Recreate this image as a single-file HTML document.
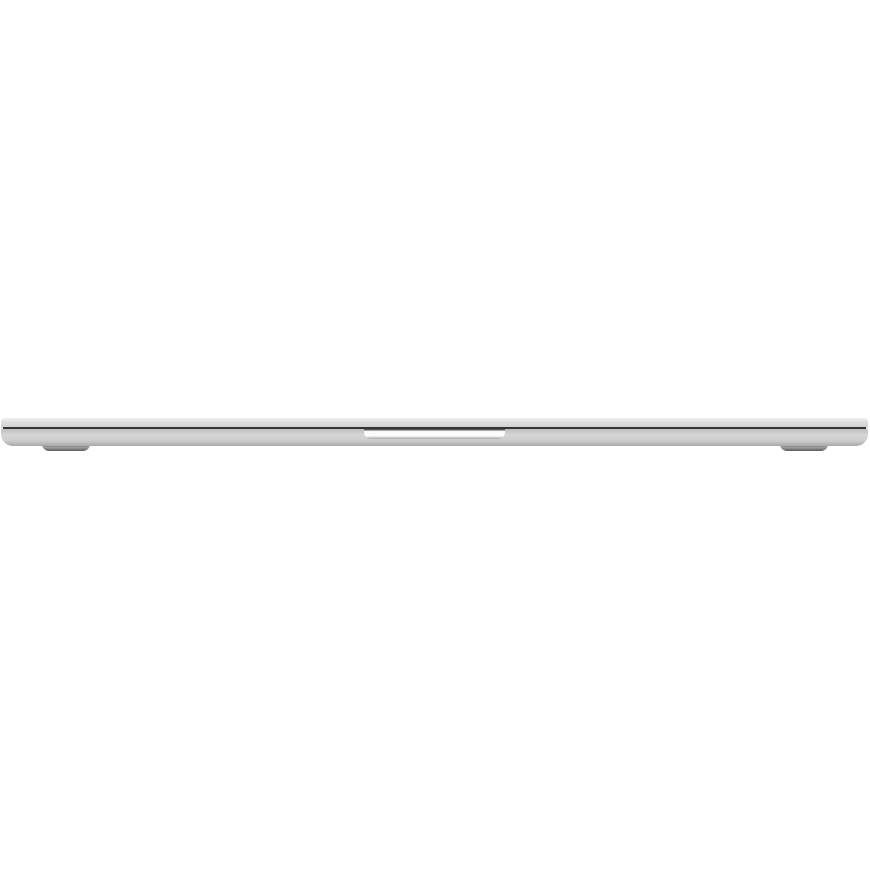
<!DOCTYPE html>
<html><head><style>
html,body{margin:0;padding:0;background:#fff;}
body{width:870px;height:870px;position:relative;overflow:hidden;}
div{position:absolute;}
</style></head><body>
<div style="left:42px;top:444px;width:48px;height:7px;border-radius:0 0 8px 8px;background:linear-gradient(#666,#a0a0a0 50%,#5a5a5a);"></div>
<div style="left:780px;top:444px;width:48px;height:7px;border-radius:0 0 8px 8px;background:linear-gradient(#666,#a0a0a0 50%,#5a5a5a);"></div>
<div style="left:1px;top:418px;width:867px;height:10px;border-radius:4px 4px 0 0;background:linear-gradient(#f0f0f0,#dedede 40%,#cfcfcf);"></div>
<div style="left:3px;top:427px;width:863px;height:2px;background:#333;"></div>
<div style="left:1px;top:429px;width:867px;height:17px;border-radius:0 0 12px 12px;background:linear-gradient(#bdbdbd,#d6d6d6 35%,#cbcbcb 70%,#a8a8a8);"></div>
<div style="left:364px;top:428px;width:141px;height:11px;border-radius:0 0 7px 7px;background:linear-gradient(#2a2a2a,#555 15%,#fafafa 30%,#ffffff 70%,#a8a8a8);"></div>
</body></html>
